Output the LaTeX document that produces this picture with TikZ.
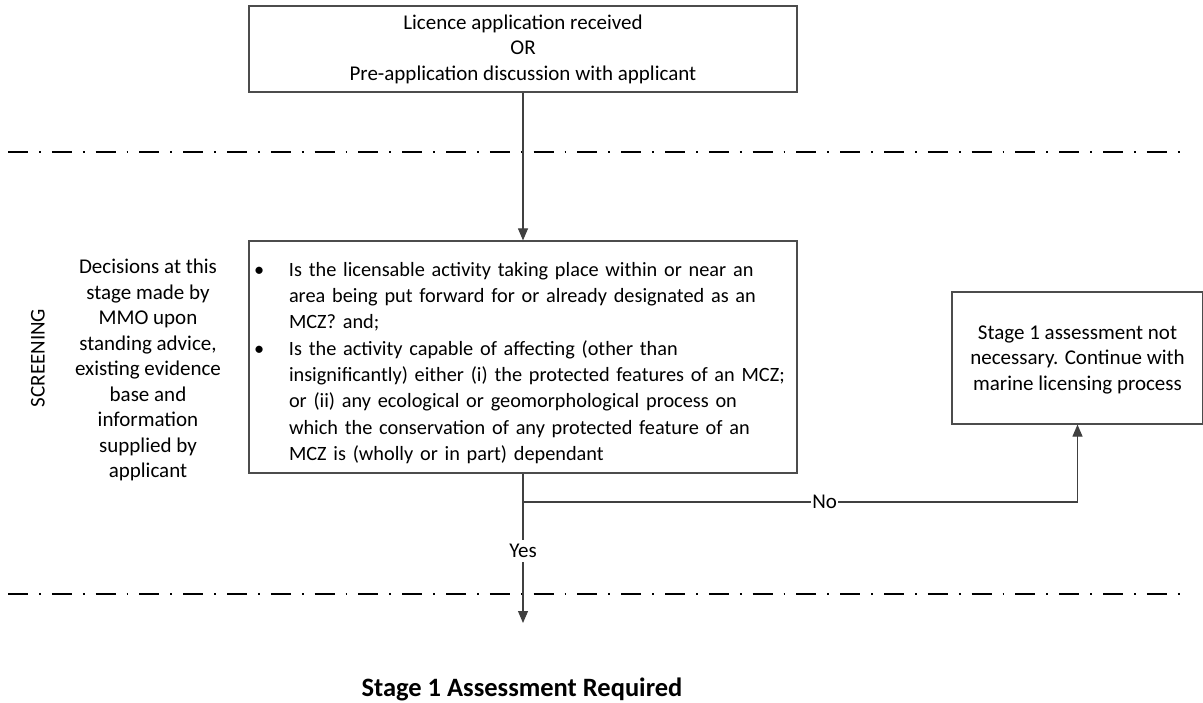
\documentclass[tikz,border=0pt]{standalone}
\usepackage{fontspec}
\setmainfont{Carlito}
\usetikzlibrary{arrows.meta}
\begin{document}
\begin{tikzpicture}[x=1pt,y=-1pt,
  every node/.style={font=\fontsize{21}{25.5}\selectfont},
  box/.style={draw=black!70, line width=1.2pt, align=center, inner sep=0pt},
  conn/.style={draw=black!75, line width=1.1pt},
  arr/.style={conn, -{Triangle[length=12pt,width=10pt]}},
  sep/.style={line width=2.4pt, dash pattern=on 20pt off 11pt on 1.8pt off 11pt},
  lbl/.style={fill=white, inner sep=1.5pt}]
\useasboundingbox (0,0) rectangle (1203,703);
% separators
\draw[sep] (8,152) -- (1182,152);
\draw[sep] (8,594) -- (1182,594);
% nodes
\node[box, minimum width=548, minimum height=86] (top) at (523,49)
  {Licence application received\\OR\\Pre-application discussion with applicant};
\node[box, minimum width=548, minimum height=232] (mid) at (523,357) {};
\node[align=left, text width=540, inner sep=0pt,
      font=\fontsize{20.3}{26.3}\selectfont] (midtxt) at ([yshift=-6pt]mid.center)
  {\makebox[36pt][l]{\hspace*{1pt}\textbullet}Is the licensable activity taking place within or near an\\
   \hspace*{36pt}area being put forward for or already designated as an\\
   \hspace*{36pt}MCZ? and;\\
   \makebox[36pt][l]{\hspace*{1pt}\textbullet}Is the activity capable of affecting (other than\\
   \hspace*{36pt}insignificantly) either (i) the protected features of an MCZ;\\
   \hspace*{36pt}or (ii) any ecological or geomorphological process on\\
   \hspace*{36pt}which the conservation of any protected feature of an\\
   \hspace*{36pt}MCZ is (wholly or in part) dependant};
\node[align=center, inner sep=0pt] (dec) at (148,370)
  {Decisions at this\\stage made by\\MMO upon\\standing advice,\\existing evidence\\base and\\information\\supplied by\\applicant};
\node[rotate=90, inner sep=0pt] (scr) at (38,358) {SCREENING};
\node[box, minimum width=251, minimum height=132] (nn) at (1077.5,358) {};
\node[align=center, inner sep=0pt] (nntxt) at ([yshift=-1.5pt]nn.center)
  {Stage 1 assessment not\\necessary. Continue with\\marine licensing process};
\node[inner sep=0pt, font=\fontsize{26.5}{30}\selectfont\bfseries] (req) at (522,689.5) {Stage 1 Assessment Required};
\coordinate (split) at (523,502);
\coordinate (yesend) at (523,623);
% connectors
\draw[arr] (top.south) -- (mid.north);
\draw[arr] (mid.south) -- (split) -| node[lbl, pos=0.272] (no) {No} (nn.south);
\draw[arr] (mid.south) -- node[lbl, pos=0.52, inner ysep=4pt] (yes) {Yes} (yesend);
\end{tikzpicture}
\end{document}
